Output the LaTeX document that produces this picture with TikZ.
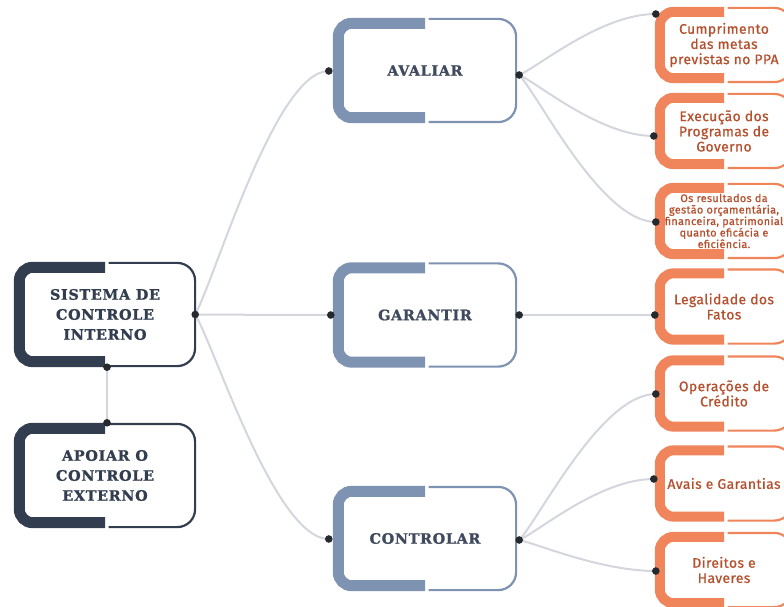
\documentclass[tikz,border=0pt]{standalone}
\usepackage{fontspec}
\usetikzlibrary{calc}
\newfontfamily\headfont{DejaVu Serif Bold}[LetterSpace=4.5, FakeBold=1.2]
\newfontfamily\leaffont{Fira Sans}[LetterSpace=3, FakeBold=0.9]
\definecolor{navy}{HTML}{323E50}
\definecolor{slate}{HTML}{7E92B2}
\definecolor{slatetext}{HTML}{3F4A5E}
\definecolor{coral}{HTML}{F0845A}
\definecolor{rust}{HTML}{B5502E}
\definecolor{linkgray}{HTML}{D4D6DE}
\definecolor{dotc}{HTML}{262A2E}

\begin{document}
\begin{tikzpicture}[x=1pt,y=1pt,
    hub/.style={minimum width=182pt, minimum height=105pt, inner sep=0pt, align=center,
        text=navy, font=\headfont\fontsize{14.4}{20}\selectfont},
    branch/.style={hub, minimum width=184pt, text=slatetext},
    leaf/.style={minimum width=138pt, minimum height=76pt, inner sep=0pt, align=center,
        text=rust, font=\leaffont\fontsize{13.9}{15.2}\selectfont},
    link/.style={draw=linkgray, line width=2pt,
        to path={.. controls ($(\tikztostart)!0.15!(\tikztotarget)$)
            and ($(\tikztotarget)!0.4!(\tikztostart |- \tikztotarget)$) .. (\tikztotarget)}}]
    \clip (0,0) rectangle (784,606);

    % main boxes
    \node[hub] (sci) at (105,291.5) {SISTEMA DE\\CONTROLE\\INTERNO};
    \node[hub] (ext) at (105,130.5) {APOIAR O\\CONTROLE\\EXTERNO};
    \node[branch] (av) at (425,535.5) {AVALIAR};
    \node[branch] (gar) at (425,291) {GARANTIR};
    \node[branch] (ctl) at (425,67.5) {CONTROLAR};

    % leaves
    \node[leaf] (o1) at (724,561) {Cumprimento\\das metas\\previstas no PPA};
    \node[leaf] (o2) at (724,475) {Execução dos\\Programas de\\Governo};
    \node[leaf, font=\leaffont\fontsize{10.9}{11.5}\selectfont] (o3) at (724,385)
        {Os resultados da\\gestão orçamentária,\\financeira, patrimonial\\quanto eficácia e\\eficiência.};
    \node[leaf] (o4) at (724,299.5) {Legalidade dos\\Fatos};
    \node[leaf] (o5) at (724,212.5) {Operações de\\Crédito};
    \node[leaf] (o6) at (724,122.5) {Avais e Garantias};
    \node[leaf] (o7) at (724,36) {Direitos e\\Haveres};

    % ports
    \coordinate (sci-r) at ($(sci.east)+(-1,0)$);
    \coordinate (sci-b) at ($(sci.south)+(2,0)$);
    \coordinate (ext-t) at ($(ext.north)+(2,0)$);
    \coordinate (av-l) at ($(av.west)+(-4,-0.5)$);
    \coordinate (av-r) at ($(av.east)+(2,-4.5)$);
    \coordinate (gar-l) at ($(gar.west)+(-2,0)$);
    \coordinate (gar-r) at ($(gar.east)+(2,0)$);
    \coordinate (ctl-l) at ($(ctl.west)+(-4,-0.5)$);
    \coordinate (ctl-r) at ($(ctl.east)+(2,-1.5)$);
    \coordinate (o1-l) at ($(o1.west)+(1,31)$);
    \coordinate (o2-l) at ($(o2.west)+(-1,-5)$);
    \coordinate (o3-l) at ($(o3.west)+(1,-1)$);
    \coordinate (o4-l) at ($(o4.west)+(0,-8.5)$);
    \coordinate (o5-l) at ($(o5.west)+(1,-0.5)$);
    \coordinate (o6-l) at ($(o6.west)+(-1,4.5)$);
    \coordinate (o7-l) at ($(o7.west)+(1,-1)$);

    % connectors
    \draw[link] (sci-b) -- (ext-t);
    \foreach \a/\b in {sci-r/av-l, sci-r/gar-l, sci-r/ctl-l,
        av-r/o1-l, av-r/o2-l, av-r/o3-l, gar-r/o4-l,
        ctl-r/o5-l, ctl-r/o6-l, ctl-r/o7-l}
        {\draw[link] (\a) to (\b);}

    % frames: thick bracket left, thin line right
    \foreach \n/\c/\w [evaluate=\w as \r using 19-\w/2] in {sci/navy/11, ext/navy/11,
        av/slate/11, gar/slate/11, ctl/slate/11, o1/coral/10, o2/coral/10, o3/coral/10,
        o4/coral/10, o5/coral/10, o6/coral/10, o7/coral/10} {
        \draw[\c, line width=\w pt, rounded corners=\r pt]
            ($(\n.north)+(0,-\w/2)$) -| ($(\n.west)+(\w/2,0)$) |- ($(\n.south)+(0,\w/2)$);
        \draw[\c, line width=2.2pt, rounded corners=17.9pt]
            ($(\n.north)+(3.5,-1.1)$) -| ($(\n.east)+(-1.1,0)$) |- ($(\n.south)+(3.5,1.1)$);
    }

    \foreach \p in {sci-r, sci-b, ext-t, av-l, av-r, gar-l, gar-r, ctl-l, ctl-r,
        o1-l, o2-l, o3-l, o4-l, o5-l, o6-l, o7-l}
        {\fill[dotc] (\p) circle (3.8);}
\end{tikzpicture}
\end{document}
